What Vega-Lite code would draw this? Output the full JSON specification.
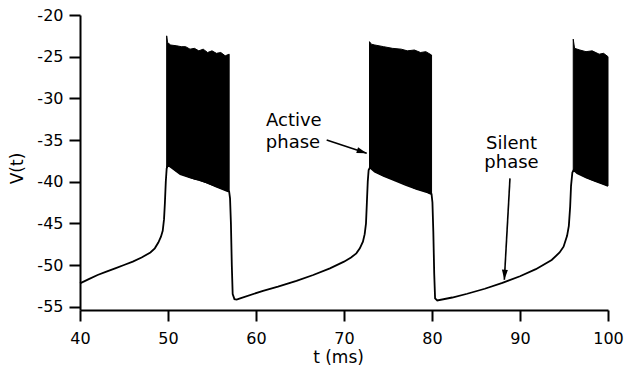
{
  "$schema": "https://vega.github.io/schema/vega-lite/v6.json",
  "width": 528,
  "height": 295,
  "autosize": {"type": "none"},
  "padding": {"left": 80, "top": 15, "right": 17, "bottom": 62},
  "background": "white",
  "config": {
    "view": {"stroke": null},
    "axis": {
      "grid": false,
      "labelFlush": false,
      "labelOverlap": false,
      "domainColor": "black",
      "domainWidth": 2,
      "tickColor": "black",
      "tickWidth": 2,
      "tickSize": 11,
      "labelFont": "DejaVu Sans",
      "labelFontSize": 16,
      "labelColor": "black",
      "titleFont": "DejaVu Sans",
      "titleFontSize": 17,
      "titleFontWeight": "normal",
      "titleColor": "black"
    }
  },
  "datasets": {
    "trace": [
      {"t": 40, "v": -52.2}, {"t": 41, "v": -51.7}, {"t": 42, "v": -51.2}, {"t": 43, "v": -50.8},
      {"t": 44, "v": -50.4}, {"t": 45, "v": -50.0}, {"t": 46, "v": -49.6}, {"t": 47, "v": -49.1},
      {"t": 48, "v": -48.5}, {"t": 48.5, "v": -48.0}, {"t": 48.9, "v": -47.3}, {"t": 49.2, "v": -46.6},
      {"t": 49.4, "v": -45.9}, {"t": 49.55, "v": -44.5}, {"t": 49.65, "v": -42.5}, {"t": 49.75, "v": -40.0},
      {"t": 49.85, "v": -38.4}, {"t": 50.0, "v": -38.0}, {"t": 50.5, "v": -38.4}, {"t": 51.4, "v": -39.1},
      {"t": 52.5, "v": -39.5}, {"t": 53.5, "v": -39.8}, {"t": 54.4, "v": -40.1}, {"t": 55.5, "v": -40.6},
      {"t": 56.7, "v": -41.1}, {"t": 56.95, "v": -41.2}, {"t": 57.05, "v": -42.0}, {"t": 57.15, "v": -45.0},
      {"t": 57.25, "v": -50.0}, {"t": 57.35, "v": -53.5}, {"t": 57.55, "v": -54.1}, {"t": 57.8, "v": -54.15},
      {"t": 58.2, "v": -54.0}, {"t": 60.8, "v": -53.1}, {"t": 62.5, "v": -52.6}, {"t": 64.6, "v": -51.9},
      {"t": 66.5, "v": -51.2}, {"t": 68.4, "v": -50.4}, {"t": 70.0, "v": -49.6}, {"t": 70.8, "v": -49.1},
      {"t": 71.4, "v": -48.6}, {"t": 71.8, "v": -48.0}, {"t": 72.15, "v": -47.2}, {"t": 72.35, "v": -46.3},
      {"t": 72.5, "v": -45.0}, {"t": 72.6, "v": -42.5}, {"t": 72.7, "v": -40.0}, {"t": 72.8, "v": -38.6},
      {"t": 72.95, "v": -38.3}, {"t": 73.5, "v": -38.8}, {"t": 74.5, "v": -39.3}, {"t": 75.9, "v": -39.9},
      {"t": 77.0, "v": -40.4}, {"t": 78.3, "v": -40.9}, {"t": 79.5, "v": -41.3}, {"t": 79.95, "v": -41.5},
      {"t": 80.05, "v": -42.5}, {"t": 80.15, "v": -46.0}, {"t": 80.25, "v": -51.0}, {"t": 80.35, "v": -54.0},
      {"t": 80.6, "v": -54.25}, {"t": 82.3, "v": -53.9}, {"t": 84.0, "v": -53.45}, {"t": 86.0, "v": -52.85},
      {"t": 88.0, "v": -52.15}, {"t": 90.0, "v": -51.35}, {"t": 91.8, "v": -50.5}, {"t": 93.6, "v": -49.4},
      {"t": 94.5, "v": -48.5}, {"t": 94.95, "v": -47.8}, {"t": 95.35, "v": -46.5}, {"t": 95.55, "v": -45.3},
      {"t": 95.7, "v": -43.0}, {"t": 95.8, "v": -40.5}, {"t": 95.95, "v": -38.9}, {"t": 96.1, "v": -38.6},
      {"t": 96.5, "v": -39.0}, {"t": 97.5, "v": -39.5}, {"t": 98.5, "v": -39.9}, {"t": 99.5, "v": -40.3},
      {"t": 100, "v": -40.5}
    ],
    "burst": [
      {"b": 1, "t": 49.85, "lo": -38.4, "hi": -22.5}, {"b": 1, "t": 49.95, "lo": -38.1, "hi": -23.3},
      {"b": 1, "t": 50.3, "lo": -38.2, "hi": -23.6}, {"b": 1, "t": 51.0, "lo": -38.8, "hi": -23.7},
      {"b": 1, "t": 51.5, "lo": -39.1, "hi": -23.8}, {"b": 1, "t": 52.0, "lo": -39.3, "hi": -23.8},
      {"b": 1, "t": 52.5, "lo": -39.5, "hi": -24.1}, {"b": 1, "t": 53.0, "lo": -39.7, "hi": -24.0},
      {"b": 1, "t": 53.5, "lo": -39.8, "hi": -24.3}, {"b": 1, "t": 54.0, "lo": -40.0, "hi": -24.1},
      {"b": 1, "t": 54.5, "lo": -40.2, "hi": -24.5}, {"b": 1, "t": 55.0, "lo": -40.4, "hi": -24.3},
      {"b": 1, "t": 55.5, "lo": -40.6, "hi": -24.6}, {"b": 1, "t": 56.0, "lo": -40.8, "hi": -24.5},
      {"b": 1, "t": 56.5, "lo": -41.0, "hi": -24.9}, {"b": 1, "t": 56.95, "lo": -41.2, "hi": -24.7},
      {"b": 2, "t": 72.9, "lo": -38.4, "hi": -23.2}, {"b": 2, "t": 73.1, "lo": -38.4, "hi": -23.5},
      {"b": 2, "t": 73.5, "lo": -38.8, "hi": -23.6}, {"b": 2, "t": 74.5, "lo": -39.3, "hi": -23.8},
      {"b": 2, "t": 75.5, "lo": -39.7, "hi": -24.0}, {"b": 2, "t": 76.5, "lo": -40.1, "hi": -24.1},
      {"b": 2, "t": 77.2, "lo": -40.4, "hi": -24.3}, {"b": 2, "t": 78.0, "lo": -40.8, "hi": -24.2},
      {"b": 2, "t": 78.7, "lo": -41.0, "hi": -24.5}, {"b": 2, "t": 79.3, "lo": -41.2, "hi": -24.4},
      {"b": 2, "t": 79.95, "lo": -41.5, "hi": -24.8},
      {"b": 3, "t": 96.05, "lo": -38.8, "hi": -22.9}, {"b": 3, "t": 96.2, "lo": -38.7, "hi": -24.0},
      {"b": 3, "t": 96.8, "lo": -39.1, "hi": -24.2}, {"b": 3, "t": 97.5, "lo": -39.5, "hi": -24.4},
      {"b": 3, "t": 98.2, "lo": -39.8, "hi": -24.3}, {"b": 3, "t": 99.0, "lo": -40.1, "hi": -24.7},
      {"b": 3, "t": 99.5, "lo": -40.3, "hi": -24.6}, {"b": 3, "t": 100, "lo": -40.5, "hi": -25.0}
    ],
    "arrows": [
      {"name": "active", "t1": 68.03, "v1": -34.99, "t2": 72.58, "v2": -36.58},
      {"name": "silent", "t1": 88.86, "v1": -39.6, "t2": 88.22, "v2": -51.77}
    ],
    "labels": [
      {"text": "Active", "t": 64.3, "v": -33.3},
      {"text": "phase", "t": 64.2, "v": -35.95},
      {"text": "Silent", "t": 89.03, "v": -36.1},
      {"text": "phase", "t": 89.03, "v": -38.4}
    ]
  },
  "layer": [
    {
      "data": {"name": "burst"},
      "mark": {"type": "area", "color": "black", "stroke": "black", "strokeWidth": 1, "interpolate": "linear"},
      "encoding": {
        "detail": {"field": "b"},
        "x": {"field": "t", "type": "quantitative", "scale": {"domain": [40, 100], "nice": false}},
        "y": {"field": "lo", "type": "quantitative", "scale": {"domain": [-55.4, -20], "nice": false}},
        "y2": {"field": "hi"}
      }
    },
    {
      "data": {"name": "trace"},
      "mark": {"type": "line", "color": "black", "strokeWidth": 1.8, "interpolate": "linear"},
      "encoding": {
        "x": {"field": "t", "type": "quantitative", "scale": {"domain": [40, 100], "nice": false},
          "axis": {"values": [40, 50, 60, 70, 80, 90, 100], "title": "t (ms)", "labelPadding": 9, "titleX": 258, "titleY": 52, "titleAnchor": null, "titleAlign": "center", "titleBaseline": "alphabetic"}},
        "y": {"field": "v", "type": "quantitative", "scale": {"domain": [-55.4, -20], "nice": false},
          "axis": {"values": [-55, -50, -45, -40, -35, -30, -25, -20], "title": "V(t)", "labelPadding": 6, "labelExpr": "replace(datum.label, '\u2212', '-')", "titleX": -63, "titleY": 153, "titleAngle": -90, "titleAlign": "center", "titleBaseline": "middle"}}
      }
    },
    {
      "data": {"name": "arrows"},
      "mark": {"type": "rule", "color": "black", "strokeWidth": 1.6},
      "encoding": {
        "x": {"field": "t1", "type": "quantitative"},
        "y": {"field": "v1", "type": "quantitative"},
        "x2": {"field": "t2"},
        "y2": {"field": "v2"}
      }
    },
    {
      "data": {"name": "arrows"},
      "transform": [{"filter": "datum.name === 'active'"}],
      "mark": {"type": "point", "shape": "M0,0L0.6,2L-0.6,2Z", "filled": true, "color": "black", "opacity": 1, "size": 100, "angle": 107.5},
      "encoding": {
        "x": {"field": "t2", "type": "quantitative"},
        "y": {"field": "v2", "type": "quantitative"}
      }
    },
    {
      "data": {"name": "arrows"},
      "transform": [{"filter": "datum.name === 'silent'"}],
      "mark": {"type": "point", "shape": "M0,0L0.6,2L-0.6,2Z", "filled": true, "color": "black", "opacity": 1, "size": 100, "angle": 183.2},
      "encoding": {
        "x": {"field": "t2", "type": "quantitative"},
        "y": {"field": "v2", "type": "quantitative"}
      }
    },
    {
      "data": {"name": "labels"},
      "mark": {"type": "text", "font": "DejaVu Sans", "fontSize": 18, "color": "black", "baseline": "alphabetic", "align": "center"},
      "encoding": {
        "x": {"field": "t", "type": "quantitative"},
        "y": {"field": "v", "type": "quantitative"},
        "text": {"field": "text"}
      }
    }
  ]
}
